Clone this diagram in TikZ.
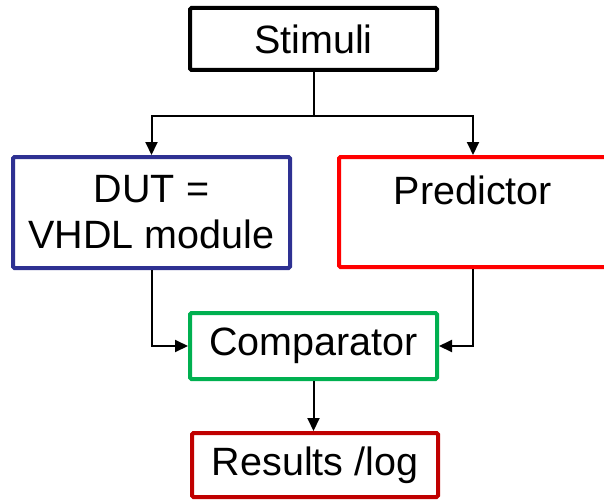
\documentclass[tikz,border=0pt]{standalone}
\usepackage{fontspec}
\setmainfont{Liberation Sans}
\usetikzlibrary{arrows.meta,calc}

\definecolor{dutblue}{HTML}{2E3192}
\definecolor{predred}{HTML}{FF0000}
\definecolor{compgreen}{HTML}{00B050}
\definecolor{resred}{HTML}{C00000}

\tikzset{
  block/.style={draw, line width=4pt, rounded corners=1.5pt, fill=white,
                inner sep=0pt, align=center,
                font=\fontsize{39.5}{46}\selectfont},
  label text/.style={inner sep=0pt, font=\fontsize{39.5}{46}\selectfont},
  conn/.style={line width=2pt, draw=black},
  arr/.style={conn, -{Triangle[length=13pt,width=12pt]}},
}

\begin{document}
\begin{tikzpicture}[x=1pt, y=-1pt]
  \useasboundingbox (0,0) rectangle (604,500);

  % blocks
  \node[block, draw=black, minimum width=247pt, minimum height=62pt] (stim) at (313.5,39) {Stimuli};
  \node[block, draw=dutblue, minimum width=277pt, minimum height=111pt] (dut) at (151.5,212.5) {DUT =\\VHDL module};
  \node[block, draw=predred, minimum width=268pt, minimum height=110pt] (pred) at (473,212) {};
  \node[label text] (predtxt) at (473,190) {Predictor};
  \node[block, draw=compgreen, minimum width=247pt, minimum height=66pt] (comp) at (313.5,346) {Comparator};
  \node[block, draw=resred, minimum width=246pt, minimum height=64pt] (res) at (315,465) {Results /log};

  % stimulus fan-out
  \coordinate (split) at ($(stim.south)+(0,44)$);
  \draw[conn] (stim.south) -- (split);
  \draw[arr] (split) -| (dut.north);
  \draw[arr] (split) -| (pred.north);

  % into the comparator
  \draw[arr] (dut.south) |- (comp.west);
  \draw[arr] (pred.south) |- (comp.east);

  % comparator to results
  \draw[arr] (comp.south) -- (comp.south |- res.north);
\end{tikzpicture}
\end{document}
